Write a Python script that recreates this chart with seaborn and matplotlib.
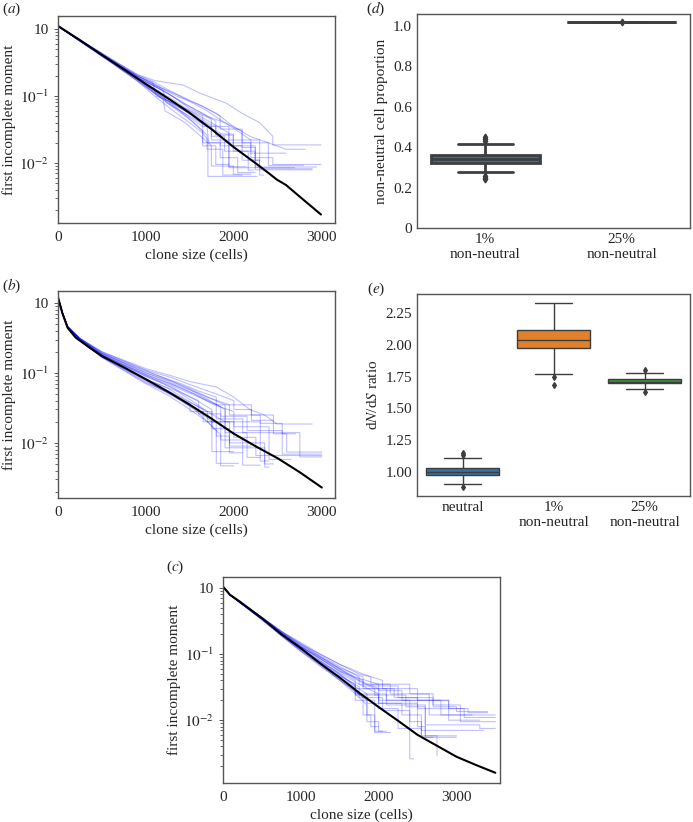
import numpy as np
import pandas as pd
import seaborn as sns
import matplotlib.pyplot as plt
from matplotlib.ticker import LogLocator, NullFormatter

# ---- panel (a): simulated runs (blue) and model curve (black)
a_black_x = [0, 250, 500, 750, 1000, 1250, 1500, 1750, 2000, 2250, 2400, 2500, 2600, 2750, 3000]
a_black_y = [1.11, 0.68, 0.41, 0.25, 0.151, 0.093, 0.056, 0.032, 0.0174, 0.01, 0.0071, 0.0056, 0.0047, 0.0032, 0.0017]
a_runs = [
    [(0, 1.1), (300, 0.63), (600, 0.36), (900, 0.21), (1100, 0.17), (1430, 0.145), (1620, 0.11), (1920, 0.078), (2100, 0.055), (2300, 0.04), (2450, 0.025), (2450, 0.0186), (3000, 0.0186)],
    [(0, 1.1), (300, 0.62), (600, 0.35), (900, 0.2), (1100, 0.15), (1350, 0.1), (1600, 0.075), (1810, 0.055), (2000, 0.035), (2190, 0.025), (2400, 0.02), (2600, 0.016), (2820, 0.016)],
    [(0, 1.1), (300, 0.61), (600, 0.34), (900, 0.19), (1100, 0.14), (1300, 0.1), (1500, 0.07), (1700, 0.05), (1900, 0.04), (2050, 0.03), (2200, 0.022), (2200, 0.012), (2450, 0.012), (2450, 0.0095), (3000, 0.0095)],
    [(0, 1.1), (300, 0.6), (600, 0.33), (900, 0.18), (1100, 0.125), (1300, 0.085), (1500, 0.058), (1700, 0.04), (1800, 0.035), (1800, 0.027), (2000, 0.027), (2000, 0.018), (2250, 0.018), (2250, 0.0087), (2950, 0.0087)],
    [(0, 1.1), (300, 0.61), (600, 0.34), (900, 0.2), (1080, 0.16), (1120, 0.1), (1400, 0.07), (1650, 0.05), (1650, 0.035), (1950, 0.035), (1950, 0.022), (2300, 0.022), (2300, 0.0082), (2900, 0.0082)],
    [(0, 1.1), (300, 0.6), (600, 0.33), (900, 0.18), (1100, 0.115), (1400, 0.065), (1600, 0.045), (1750, 0.035), (1750, 0.025), (1900, 0.025), (1900, 0.015), (2250, 0.015), (2250, 0.0079), (2900, 0.0079)],
    [(0, 1.1), (300, 0.59), (600, 0.32), (900, 0.17), (1100, 0.11), (1300, 0.07), (1500, 0.045), (1650, 0.03), (1650, 0.02), (1850, 0.02), (1850, 0.012), (2050, 0.012), (2050, 0.0072), (2250, 0.0072)],
    [(0, 1.1), (300, 0.62), (600, 0.35), (900, 0.19), (1100, 0.14), (1300, 0.1), (1450, 0.075), (1650, 0.055), (1800, 0.042), (1800, 0.026), (2000, 0.026), (2000, 0.015), (2170, 0.015), (2170, 0.0078), (2230, 0.0078)],
    [(0, 1.1), (300, 0.6), (600, 0.32), (900, 0.17), (1100, 0.1), (1300, 0.062), (1500, 0.04), (1650, 0.028), (1710, 0.022), (1710, 0.0063), (2270, 0.0063)],
    [(0, 1.1), (300, 0.6), (600, 0.33), (900, 0.18), (1100, 0.11), (1350, 0.066), (1550, 0.04), (1700, 0.026), (1700, 0.016), (1880, 0.016), (1880, 0.0066), (2100, 0.0066)],
    [(0, 1.1), (300, 0.62), (600, 0.35), (900, 0.2), (1100, 0.15), (1300, 0.1), (1500, 0.065), (1750, 0.045), (1750, 0.022), (1950, 0.022), (1950, 0.0088), (2150, 0.0088)],
    [(0, 1.1), (300, 0.61), (600, 0.34), (900, 0.19), (1100, 0.12), (1300, 0.075), (1500, 0.048), (1650, 0.035), (1650, 0.018), (1800, 0.018), (1800, 0.0095), (1950, 0.0095)],
    [(0, 1.1), (300, 0.63), (600, 0.36), (900, 0.21), (1100, 0.16), (1250, 0.125), (1450, 0.09), (1700, 0.06), (1900, 0.04), (2100, 0.03), (2100, 0.02), (2400, 0.02), (2400, 0.0092), (2800, 0.0092)],
    [(0, 1.1), (300, 0.6), (600, 0.33), (900, 0.18), (1100, 0.115), (1250, 0.085), (1500, 0.055), (1650, 0.038), (1850, 0.028), (1850, 0.018), (2100, 0.018), (2100, 0.011), (2300, 0.011), (2300, 0.0066), (2350, 0.0066)],
    [(0, 1.1), (300, 0.61), (600, 0.33), (900, 0.19), (1100, 0.14), (1200, 0.12), (1230, 0.08), (1500, 0.05), (1700, 0.035), (1720, 0.02), (1950, 0.02), (1950, 0.0085), (2700, 0.0085)],
    [(0, 1.1), (300, 0.62), (600, 0.34), (900, 0.2), (1100, 0.145), (1400, 0.1), (1650, 0.07), (1850, 0.05), (1850, 0.032), (2100, 0.032), (2100, 0.017), (2250, 0.017), (2250, 0.011), (2300, 0.011)],
    [(0, 1.1), (300, 0.59), (600, 0.32), (900, 0.17), (1100, 0.11), (1200, 0.09), (1220, 0.06), (1450, 0.04), (1600, 0.027), (1750, 0.018), (1750, 0.009), (2000, 0.009), (2000, 0.0068), (2200, 0.0068)],
    [(0, 1.1), (300, 0.61), (600, 0.34), (900, 0.19), (1100, 0.13), (1300, 0.09), (1500, 0.06), (1750, 0.04), (1950, 0.028), (1950, 0.02), (2200, 0.02), (2200, 0.014), (2600, 0.014)],
]

# ---- panel (b)
b_black_x = [0, 50, 110, 200, 350, 500, 750, 1000, 1250, 1500, 1750, 2000, 2250, 2500, 2750, 3000]
b_black_y = [1.2, 0.71, 0.44, 0.32, 0.234, 0.174, 0.12, 0.081, 0.054, 0.035, 0.022, 0.0135, 0.0089, 0.006, 0.0038, 0.0023]
b_runs = [
    [(0, 1.2), (50, 0.72), (110, 0.46), (250, 0.31), (500, 0.2), (1000, 0.115), (1300, 0.09), (1500, 0.075), (1800, 0.063), (2000, 0.045), (2180, 0.03), (2350, 0.025), (2490, 0.0186), (2890, 0.0186)],
    [(0, 1.2), (50, 0.72), (110, 0.46), (250, 0.31), (500, 0.19), (1000, 0.105), (1400, 0.07), (1600, 0.055), (1800, 0.045), (1800, 0.035), (2200, 0.035), (2200, 0.025), (2450, 0.025), (2450, 0.0135), (2600, 0.0135), (2600, 0.0074), (3000, 0.0074)],
    [(0, 1.2), (50, 0.72), (110, 0.45), (250, 0.3), (500, 0.18), (1000, 0.09), (1300, 0.065), (1600, 0.045), (1800, 0.035), (1800, 0.022), (2100, 0.022), (2100, 0.014), (2750, 0.014), (2750, 0.0063), (3000, 0.0063)],
    [(0, 1.2), (50, 0.72), (110, 0.44), (250, 0.29), (500, 0.17), (1000, 0.08), (1200, 0.06), (1500, 0.038), (1700, 0.028), (1700, 0.02), (1950, 0.02), (1950, 0.01), (2350, 0.01), (2350, 0.005), (2450, 0.005)],
    [(0, 1.2), (50, 0.72), (110, 0.46), (250, 0.3), (500, 0.19), (1000, 0.1), (1300, 0.075), (1500, 0.058), (1700, 0.042), (1900, 0.03), (1900, 0.014), (2150, 0.014), (2150, 0.0062), (2300, 0.0062)],
    [(0, 1.2), (50, 0.72), (110, 0.44), (250, 0.29), (500, 0.165), (1000, 0.07), (1250, 0.048), (1500, 0.03), (1700, 0.02), (1850, 0.013), (1850, 0.0047), (2000, 0.0047)],
    [(0, 1.2), (50, 0.72), (110, 0.45), (250, 0.29), (500, 0.17), (1000, 0.075), (1300, 0.048), (1550, 0.03), (1700, 0.02), (1800, 0.015), (1800, 0.0051), (2050, 0.0051)],
    [(0, 1.2), (50, 0.72), (110, 0.46), (250, 0.31), (500, 0.19), (1000, 0.1), (1200, 0.08), (1450, 0.06), (1650, 0.048), (1900, 0.035), (1900, 0.02), (2300, 0.02), (2300, 0.0055), (2400, 0.0055)],
    [(0, 1.2), (50, 0.72), (110, 0.45), (250, 0.3), (500, 0.18), (1000, 0.088), (1300, 0.062), (1550, 0.042), (1750, 0.03), (1750, 0.02), (2000, 0.02), (2000, 0.012), (2250, 0.012), (2250, 0.0066), (3000, 0.0066)],
    [(0, 1.2), (50, 0.72), (110, 0.44), (250, 0.29), (500, 0.17), (1000, 0.082), (1250, 0.06), (1450, 0.042), (1650, 0.03), (1650, 0.02), (1800, 0.02), (1800, 0.0125), (1950, 0.0125), (1950, 0.0072), (2100, 0.0072)],
    [(0, 1.2), (50, 0.72), (110, 0.46), (250, 0.31), (500, 0.2), (1000, 0.11), (1300, 0.085), (1500, 0.068), (1800, 0.05), (2000, 0.04), (2000, 0.03), (2200, 0.03), (2200, 0.021), (2450, 0.021)],
    [(0, 1.2), (50, 0.72), (110, 0.45), (250, 0.3), (500, 0.185), (1000, 0.095), (1350, 0.065), (1600, 0.047), (1850, 0.033), (1850, 0.024), (2150, 0.024), (2150, 0.015), (2550, 0.015), (2550, 0.0069), (3000, 0.0069)],
    [(0, 1.2), (50, 0.72), (110, 0.44), (250, 0.29), (500, 0.168), (1000, 0.072), (1300, 0.05), (1500, 0.036), (1500, 0.028), (1750, 0.028), (1750, 0.016), (1950, 0.016), (1950, 0.009), (2200, 0.009)],
    [(0, 1.2), (50, 0.72), (110, 0.45), (250, 0.3), (500, 0.175), (1000, 0.08), (1350, 0.055), (1550, 0.038), (1700, 0.028), (1900, 0.02), (1900, 0.0085), (2350, 0.0085), (2350, 0.0045), (2400, 0.0045)],
    [(0, 1.2), (50, 0.72), (110, 0.45), (250, 0.3), (500, 0.18), (1000, 0.092), (1200, 0.07), (1400, 0.052), (1600, 0.04), (1600, 0.026), (1850, 0.026), (1850, 0.011), (2100, 0.011), (2100, 0.0048), (2300, 0.0048)],
    [(0, 1.2), (50, 0.72), (110, 0.46), (250, 0.31), (500, 0.195), (1000, 0.108), (1250, 0.08), (1500, 0.06), (1700, 0.045), (1950, 0.035), (1950, 0.025), (2300, 0.025), (2300, 0.019), (2550, 0.019), (2550, 0.0135), (2700, 0.0135)],
    [(0, 1.2), (50, 0.72), (110, 0.44), (250, 0.29), (500, 0.17), (1000, 0.078), (1150, 0.06), (1400, 0.04), (1600, 0.028), (1750, 0.02), (1750, 0.0075), (2000, 0.0075)],
    [(0, 1.2), (50, 0.72), (110, 0.45), (250, 0.3), (500, 0.182), (1000, 0.094), (1300, 0.068), (1550, 0.05), (1750, 0.036), (2000, 0.028), (2000, 0.017), (2400, 0.017), (2400, 0.0058), (2650, 0.0058)],
]

# ---- panel (c)
c_black_x = [0, 90, 220, 500, 750, 1000, 1250, 1500, 1750, 2000, 2250, 2500, 2750, 3000, 3250, 3500]
c_black_y = [1.05, 0.79, 0.62, 0.35, 0.2, 0.123, 0.072, 0.044, 0.026, 0.0158, 0.0098, 0.006, 0.0041, 0.0028, 0.0021, 0.0016]
c_runs = [
    [(0, 1.05), (90, 0.79), (220, 0.61), (500, 0.36), (750, 0.22), (1000, 0.15), (1250, 0.1), (1500, 0.07), (1750, 0.05), (1900, 0.045), (1900, 0.035), (2400, 0.035), (2400, 0.025), (2700, 0.025), (2700, 0.016), (3000, 0.016), (3000, 0.0135), (3400, 0.0135)],
    [(0, 1.05), (90, 0.79), (220, 0.61), (500, 0.35), (750, 0.21), (1000, 0.14), (1250, 0.09), (1500, 0.06), (1700, 0.045), (2000, 0.035), (2000, 0.028), (2300, 0.028), (2300, 0.02), (2800, 0.02), (2800, 0.012), (3500, 0.012)],
    [(0, 1.05), (90, 0.79), (220, 0.6), (500, 0.35), (750, 0.21), (1000, 0.13), (1250, 0.085), (1500, 0.055), (1800, 0.04), (1800, 0.03), (2200, 0.03), (2200, 0.022), (2500, 0.022), (2500, 0.015), (3100, 0.015), (3100, 0.011), (3500, 0.011)],
    [(0, 1.05), (90, 0.79), (220, 0.6), (500, 0.34), (750, 0.2), (1000, 0.12), (1250, 0.075), (1450, 0.05), (1700, 0.035), (1700, 0.025), (2100, 0.025), (2100, 0.017), (2600, 0.017), (2600, 0.0085), (3300, 0.0085), (3300, 0.0075), (3500, 0.0075)],
    [(0, 1.05), (90, 0.79), (220, 0.6), (500, 0.35), (750, 0.2), (1000, 0.125), (1250, 0.08), (1500, 0.05), (1650, 0.035), (1850, 0.025), (1850, 0.018), (2300, 0.018), (2300, 0.012), (2550, 0.012), (2550, 0.007), (3350, 0.007)],
    [(0, 1.05), (90, 0.79), (220, 0.6), (500, 0.33), (750, 0.19), (1000, 0.11), (1250, 0.07), (1450, 0.045), (1650, 0.03), (1850, 0.02), (1850, 0.012), (1950, 0.012), (1950, 0.0065), (2150, 0.0065)],
    [(0, 1.05), (90, 0.79), (220, 0.6), (500, 0.34), (750, 0.19), (1000, 0.115), (1250, 0.068), (1500, 0.04), (1700, 0.025), (1850, 0.017), (1850, 0.0095), (2000, 0.0095), (2000, 0.0068), (2050, 0.0068)],
    [(0, 1.05), (90, 0.79), (220, 0.61), (500, 0.35), (750, 0.21), (1000, 0.13), (1250, 0.09), (1500, 0.06), (1750, 0.04), (2000, 0.03), (2000, 0.02), (2400, 0.02), (2400, 0.0095), (2550, 0.0095), (2550, 0.0058), (2750, 0.0058), (2750, 0.0029)],
    [(0, 1.05), (90, 0.79), (220, 0.6), (500, 0.34), (750, 0.2), (1000, 0.12), (1250, 0.075), (1500, 0.048), (1750, 0.032), (1750, 0.022), (2050, 0.022), (2050, 0.014), (2400, 0.014), (2400, 0.0026), (2450, 0.0026)],
    [(0, 1.05), (90, 0.79), (220, 0.61), (500, 0.36), (750, 0.22), (1000, 0.14), (1250, 0.1), (1500, 0.07), (1800, 0.05), (2050, 0.04), (2050, 0.03), (2500, 0.03), (2500, 0.02), (2900, 0.02), (2900, 0.015), (3150, 0.015), (3150, 0.013), (3400, 0.013)],
    [(0, 1.05), (90, 0.79), (220, 0.61), (500, 0.35), (750, 0.21), (1000, 0.13), (1250, 0.085), (1500, 0.058), (1700, 0.042), (1950, 0.03), (1950, 0.024), (2350, 0.024), (2350, 0.016), (2600, 0.016), (2600, 0.0058), (3000, 0.0058)],
    [(0, 1.05), (90, 0.79), (220, 0.6), (500, 0.34), (750, 0.2), (1000, 0.12), (1300, 0.07), (1500, 0.05), (1700, 0.033), (1700, 0.024), (2000, 0.024), (2000, 0.015), (2250, 0.015), (2250, 0.0075), (2550, 0.0075), (2550, 0.0055), (2700, 0.0055)],
    [(0, 1.05), (90, 0.79), (220, 0.61), (500, 0.36), (750, 0.22), (1000, 0.135), (1250, 0.092), (1500, 0.062), (1800, 0.045), (1800, 0.033), (2250, 0.033), (2250, 0.022), (2700, 0.022), (2700, 0.017), (3050, 0.017), (3050, 0.0095), (3500, 0.0095)],
    [(0, 1.05), (90, 0.79), (220, 0.6), (500, 0.33), (750, 0.19), (1000, 0.11), (1250, 0.065), (1450, 0.045), (1650, 0.03), (1800, 0.022), (1800, 0.012), (1900, 0.012), (1900, 0.008), (2000, 0.008)],
    [(0, 1.05), (90, 0.79), (220, 0.61), (500, 0.35), (750, 0.21), (1000, 0.13), (1250, 0.085), (1500, 0.055), (1700, 0.04), (1700, 0.03), (2100, 0.03), (2100, 0.02), (2900, 0.02), (2900, 0.01), (3300, 0.01)],
    [(0, 1.05), (90, 0.79), (220, 0.6), (500, 0.34), (750, 0.2), (1000, 0.12), (1250, 0.078), (1500, 0.052), (1750, 0.035), (2000, 0.025), (2000, 0.018), (2500, 0.018), (2500, 0.008), (2600, 0.008), (2600, 0.0055), (3000, 0.0055)],
    [(0, 1.05), (90, 0.79), (220, 0.61), (500, 0.36), (750, 0.22), (1000, 0.145), (1250, 0.095), (1500, 0.065), (1750, 0.045), (1750, 0.035), (2150, 0.035), (2150, 0.025), (2650, 0.025), (2650, 0.012), (3200, 0.012)],
    [(0, 1.05), (90, 0.79), (220, 0.6), (500, 0.34), (750, 0.2), (1000, 0.115), (1250, 0.072), (1500, 0.045), (1700, 0.03), (1700, 0.02), (1950, 0.02), (1950, 0.0068), (2100, 0.0068)],
]

# ---- panel (d): non-neutral cell proportion
d_groups = ['1%\nnon-neutral', '25%\nnon-neutral']
d_one = [0.245, 0.25, 0.258, 0.275, 0.29, 0.31, 0.322, 0.325, 0.33, 0.333, 0.336, 0.338, 0.34,
         0.343, 0.346, 0.35, 0.354, 0.358, 0.362, 0.37, 0.39, 0.415, 0.43, 0.44, 0.452]
d_quarter = [1.02] * 20 + [1.022]

# ---- panel (e): dN/dS ratio
e_groups = ['neutral', '1%\nnon-neutral', '25%\nnon-neutral']
e_neutral = [0.88, 0.905, 0.94, 0.96, 0.97, 0.975, 0.98, 0.99, 0.995, 0.998, 1.0,
             1.005, 1.01, 1.02, 1.025, 1.03, 1.04, 1.06, 1.11, 1.13, 1.15]
e_one = [1.68, 1.75, 1.77, 1.85, 1.92, 1.975, 1.99, 2.0, 2.02, 2.03, 2.04,
         2.05, 2.07, 2.09, 2.11, 2.12, 2.15, 2.19, 2.24, 2.29, 2.33]
e_quarter = [1.63, 1.65, 1.67, 1.68, 1.69, 1.697, 1.70, 1.705, 1.707, 1.709, 1.71,
             1.712, 1.715, 1.72, 1.728, 1.733, 1.74, 1.75, 1.76, 1.775, 1.80]

box_colors = ['#1f77b4', '#ff7f0e', '#2ca02c']

sns.set_style('white')
plt.rcParams['font.family'] = ['Liberation Serif', 'DejaVu Serif']
plt.rcParams['mathtext.fontset'] = 'stix'

fig = plt.figure(figsize=(6.93, 8.22), dpi=100)
W, H = 693.0, 822.0


def add_ax(left, top, right, bottom):
    return fig.add_axes([left / W, 1 - bottom / H, (right - left) / W, (bottom - top) / H])


def frame(ax):
    for s in ax.spines.values():
        s.set_visible(True)
        s.set_color('#555555')
        s.set_linewidth(1.0)


def moment_panel(ax, runs, bx, by, xmax, ylim):
    rows = []
    for i, run in enumerate(runs):
        for x, y in run:
            rows.append((i, x, y))
    df = pd.DataFrame(rows, columns=['run', 'clone', 'moment'])
    sns.lineplot(data=df, x='clone', y='moment', units='run', estimator=None, sort=False,
                 color='#0000ff', alpha=0.25, lw=0.8, ax=ax)
    sns.lineplot(x=bx, y=by, sort=False, estimator=None, color='black', lw=1.5, ax=ax)
    ax.set_yscale('log')
    ax.set_xlim(0, xmax)
    ax.set_ylim(*ylim)
    ax.set_yticks([1, 0.1, 0.01])
    ax.set_yticklabels(['10', r'$10^{-1}$', r'$10^{-2}$'])
    ax.yaxis.set_minor_locator(LogLocator(base=10, subs=np.arange(2, 10)))
    ax.yaxis.set_minor_formatter(NullFormatter())
    ax.set_xticks([0, 1000, 2000, 3000])
    ax.tick_params(axis='both', labelsize=11)
    ax.tick_params(axis='x', length=0, pad=6)
    ax.tick_params(axis='y', which='major', left=True, length=3, width=0.7, color='#555555')
    ax.tick_params(axis='y', which='minor', left=True, length=2, width=0.6, color='#555555')
    ax.set_xlabel('clone size (cells)', fontsize=11, labelpad=3)
    ax.set_ylabel('first incomplete moment', fontsize=11, labelpad=2)
    frame(ax)


ax_a = add_ax(58, 16, 335, 223)
moment_panel(ax_a, a_runs, a_black_x, a_black_y, 3160, (0.00127, 1.56))
ax_b = add_ax(58, 291, 335, 498)
moment_panel(ax_b, b_runs, b_black_x, b_black_y, 3150, (0.00163, 1.48))
ax_c = add_ax(223, 577, 500, 783)
moment_panel(ax_c, c_runs, c_black_x, c_black_y, 3560, (0.00112, 1.47))

flier = dict(marker='d', markerfacecolor='#3d3d3d', markeredgecolor='#3d3d3d')

# (d)
ax_d = add_ax(417, 14, 690, 228)
d_df = pd.DataFrame({'group': [d_groups[0]] * len(d_one) + [d_groups[1]] * len(d_quarter),
                     'value': d_one + d_quarter})
sns.boxplot(data=d_df, x='group', y='value', hue='group', palette=box_colors[:2], legend=False,
            linewidth=2, fliersize=3.5, flierprops=flier, ax=ax_d)
ax_d.set_ylim(0, 1.06)
ax_d.set_yticks([0, 0.2, 0.4, 0.6, 0.8, 1.0])
ax_d.set_yticklabels(['0', '0.2', '0.4', '0.6', '0.8', '1.0'])
ax_d.set_xlabel('')
ax_d.set_ylabel('non-neutral cell proportion', fontsize=11)
ax_d.tick_params(axis='both', labelsize=11, length=0)
frame(ax_d)

# (e)
ax_e = add_ax(417, 294, 690, 496)
e_df = pd.DataFrame({'group': [e_groups[0]] * len(e_neutral) + [e_groups[1]] * len(e_one)
                     + [e_groups[2]] * len(e_quarter),
                     'value': e_neutral + e_one + e_quarter})
sns.boxplot(data=e_df, x='group', y='value', hue='group', palette=box_colors, legend=False,
            linewidth=1, fliersize=3, flierprops=flier, ax=ax_e)
ax_e.set_ylim(0.81, 2.40)
ax_e.set_yticks([1.0, 1.25, 1.5, 1.75, 2.0, 2.25])
ax_e.set_yticklabels(['1.00', '1.25', '1.50', '1.75', '2.00', '2.25'])
ax_e.set_xlabel('')
ax_e.set_ylabel(r'd$N$/d$S$ ratio', fontsize=11)
ax_e.tick_params(axis='both', labelsize=11, length=0)
frame(ax_e)

# panel letters
for lbl, px, py in [('a', 12, 9), ('b', 12, 286), ('c', 175, 567), ('d', 376, 9), ('e', 376, 289)]:
    fig.text(px / W, 1 - py / H, r'($%s$)' % lbl, ha='center', va='center', fontsize=11)

fig.savefig('out.png', dpi=100)
